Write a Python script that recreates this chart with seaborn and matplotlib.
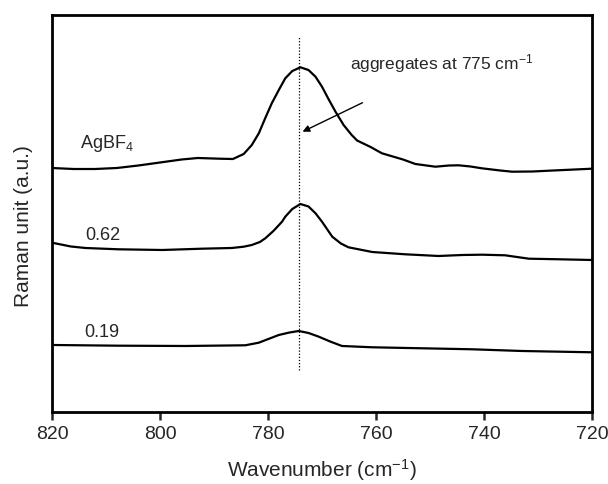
import numpy as np
import pandas as pd
import matplotlib
matplotlib.use("Agg")
import matplotlib.pyplot as plt
import seaborn as sns

# wavenumbers (cm-1) and intensities (a.u., offset traces)
wn_agbf4 = [820.0, 816.0, 812.0, 808.0, 804.0, 800.0, 796.0, 793.0, 789.0, 786.5,
            784.5, 783.0, 781.7, 780.5, 779.3, 778.0, 776.8, 775.5, 774.0, 772.5,
            771.2, 770.0, 768.8, 767.5, 766.0, 764.5, 763.5, 761.0, 758.9, 755.0,
            752.7, 749.0, 746.5, 744.7, 742.5, 740.4, 737.0, 734.8, 731.0, 728.0,
            724.0, 720.0]
int_agbf4 = [2.44, 2.43, 2.43, 2.44, 2.465, 2.495, 2.525, 2.54, 2.533, 2.53,
             2.58, 2.67, 2.787, 2.94, 3.087, 3.22, 3.337, 3.41, 3.447, 3.42,
             3.353, 3.253, 3.13, 3.003, 2.87, 2.77, 2.715, 2.65, 2.587, 2.525,
             2.48, 2.453, 2.465, 2.467, 2.455, 2.437, 2.415, 2.403, 2.405, 2.413,
             2.423, 2.433]

wn_062 = [820.0, 816.5, 813.8, 807.7, 799.6, 792.2, 786.7, 784.5, 783.0, 781.5,
          780.5, 779.0, 777.4, 776.8, 775.5, 774.0, 772.5, 771.2, 770.0, 768.1,
          766.5, 765.1, 760.7, 754.6, 748.4, 744.0, 740.4, 736.1, 731.7, 726.0,
          720.0]
int_062 = [1.693, 1.655, 1.64, 1.627, 1.62, 1.633, 1.64, 1.653, 1.67, 1.70,
           1.737, 1.81, 1.903, 1.953, 2.03, 2.08, 2.055, 1.987, 1.903, 1.753,
           1.685, 1.647, 1.60, 1.577, 1.56, 1.57, 1.573, 1.567, 1.533, 1.527,
           1.52]

wn_019 = [820.0, 807.7, 795.3, 784.2, 781.7, 778.0, 776.0, 774.3, 772.5, 770.6,
          768.5, 766.3, 760.7, 751.5, 742.2, 733.0, 720.0]
int_019 = [0.67, 0.663, 0.66, 0.667, 0.693, 0.77, 0.795, 0.81, 0.79, 0.753,
           0.705, 0.66, 0.647, 0.637, 0.627, 0.61, 0.597]

x_ticks = [820, 800, 780, 760, 740, 720]
peak_pos = 774.2

sns.set_style("ticks")
plt.rcParams['font.family'] = ['Liberation Sans', 'DejaVu Sans']
plt.rcParams['mathtext.default'] = 'regular'

frames = []
for name, w, i in [("AgBF4", wn_agbf4, int_agbf4), ("0.62", wn_062, int_062), ("0.19", wn_019, int_019)]:
    frames.append(pd.DataFrame({"wn": w, "intensity": i, "sample": name}))
df = pd.concat(frames, ignore_index=True)

fig = plt.figure(figsize=(6.08, 4.84), dpi=100)
ax = fig.add_axes([0.0855, 0.1488, 0.8882, 0.8208])

sns.lineplot(data=df, x="wn", y="intensity", units="sample", estimator=None,
             color="black", linewidth=1.6, sort=False, ax=ax, legend=False)

# dotted marker at the aggregate band
ax.plot([peak_pos, peak_pos], [0.42, 3.75], color="black", linestyle=(0, (1, 1.5)), linewidth=0.9)

ax.annotate("", xy=(773.6, 2.803), xytext=(762.5, 3.093),
            arrowprops=dict(arrowstyle="-|>", color="black", lw=1.0,
                            mutation_scale=10, shrinkA=0, shrinkB=0))
ax.text(764.8, 3.48, "aggregates at 775 cm$^{-1}$", fontsize=12.5, ha="left", va="center")

ax.text(814.9, 2.637, "AgBF$_4$", fontsize=13, ha="left", va="baseline")
ax.text(813.8, 1.72, "0.62", fontsize=13, ha="left", va="baseline")
ax.text(814.1, 0.747, "0.19", fontsize=13, ha="left", va="baseline")

ax.set_xlim(820, 720)
ax.set_ylim(0, 3.973)
ax.set_xticks(x_ticks)
ax.set_yticks([])
ax.tick_params(axis="x", direction="out", length=6, width=1.8, labelsize=14, pad=4)
for s in ax.spines.values():
    s.set_linewidth(2.0)
    s.set_color("black")

ax.set_xlabel("Wavenumber (cm$^{-1}$)", fontsize=15, labelpad=10)
ax.set_ylabel("Raman unit (a.u.)", fontsize=15, labelpad=12)
ax.yaxis.set_label_coords(-0.035, 0.467)

fig.savefig("out.png", dpi=100)
plt.close(fig)
